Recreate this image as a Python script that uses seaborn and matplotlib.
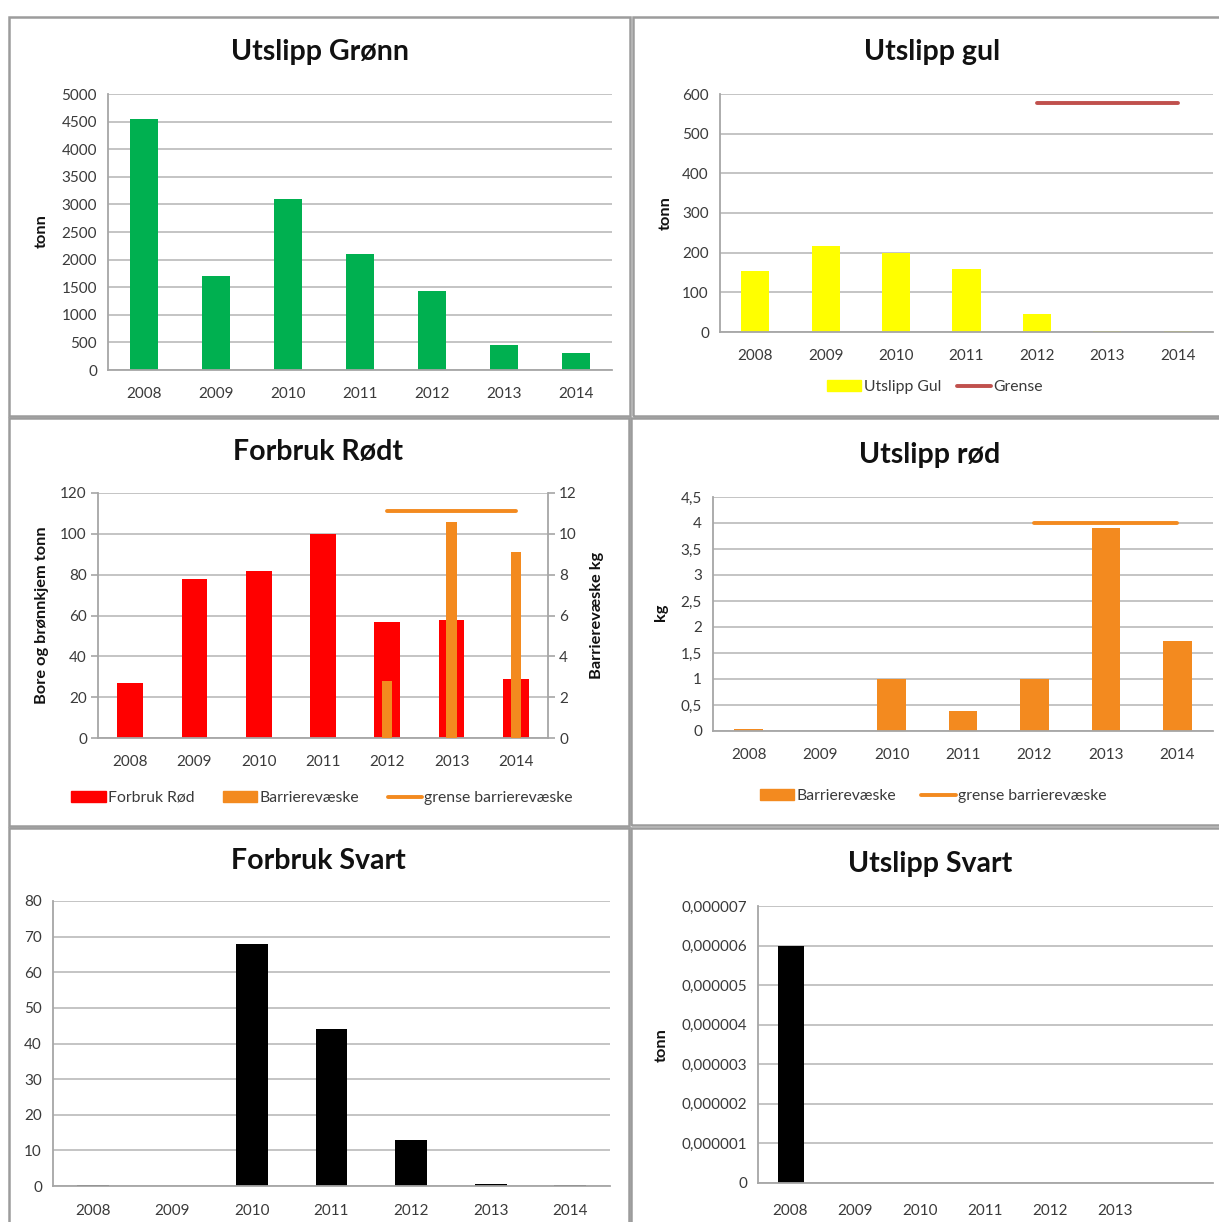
import numpy as np
import matplotlib
matplotlib.use("Agg")
import matplotlib.pyplot as plt
from matplotlib.patches import Rectangle, Patch
from matplotlib.lines import Line2D
from matplotlib.ticker import FuncFormatter
import seaborn as sns

# ---- data ----
years = ["2008", "2009", "2010", "2011", "2012", "2013", "2014"]
gronn_utslipp = [4540, 1700, 3090, 2100, 1440, 460, 300]
gul_utslipp = [155, 218, 200, 160, 45, 3, 3]
gul_grense = [np.nan, np.nan, np.nan, np.nan, 577, 577, 577]
rod_forbruk = [27, 78, 82, 100, 57, 58, 29]
rod_barriere_forbruk = [np.nan, np.nan, np.nan, np.nan, 2.8, 10.6, 9.1]
rod_grense_forbruk = [np.nan, np.nan, np.nan, np.nan, 11.1, 11.1, 11.1]
rod_barriere_utslipp = [0.03, 0, 1.0, 0.38, 1.0, 3.9, 1.74]
rod_grense_utslipp = [np.nan, np.nan, np.nan, np.nan, 4.0, 4.0, 4.0]
svart_forbruk = [0.4, 0, 68, 44, 13, 0.5, 0.4]
svart_utslipp = [6e-6, 0, 0, 0, 0, 0, 0]
svart_utslipp_labels = ["2008", "2009", "2010", "2011", "2012", "2013", ""]

GREEN = "#00B050"
YELLOW = "#FFFF00"
RED = "#FF0000"
ORANGE = "#F38A1F"
GRENSE_RED = "#C0504D"
BLACK = "#000000"
GRID = "#c4c4c4"
AXIS = "#a6a6a6"
TXT = "#3a3a3a"

W, H = 1219, 1222
sns.set_theme(style="white")
plt.rcParams["font.family"] = ["Lato", "DejaVu Sans"]

fig = plt.figure(figsize=(W / 100, H / 100), dpi=100)
fig.patch.set_facecolor("white")


def box(l, t, r, b):
    return [l / W, 1 - b / H, (r - l) / W, (b - t) / H]


def fx(x):
    return x / W


def fy(y):
    return 1 - y / H


pos = np.arange(len(years))
bar_kw = dict(saturation=1, linewidth=0)


def style(ax, ymax, step, fmt=None, labelsize=11):
    ax.set_xlim(-0.5, len(years) - 0.5)
    ax.set_ylim(0, ymax)
    ax.set_yticks(np.arange(0, ymax + step / 2, step))
    if fmt is not None:
        ax.yaxis.set_major_formatter(FuncFormatter(fmt))
    ax.grid(axis="y", color=GRID, lw=1.4)
    ax.grid(axis="x", visible=False)
    ax.set_axisbelow(True)
    for s in ("top", "right"):
        ax.spines[s].set_visible(False)
    for s in ("left", "bottom"):
        ax.spines[s].set_color(AXIS)
        ax.spines[s].set_linewidth(1.3)
    ax.set_xticks(pos)
    ax.set_xticks(np.arange(-0.5, len(years)), minor=True)
    ax.tick_params(axis="x", which="major", length=0, labelsize=labelsize,
                   labelcolor=TXT, pad=12)
    ax.tick_params(axis="x", which="minor", length=6, width=1.2,
                   color=AXIS, direction="out")
    ax.tick_params(axis="y", length=5, width=1.2, color=AXIS, direction="out",
                   labelsize=labelsize, labelcolor=TXT, pad=3)
    ax.set_xlabel("")
    ax.set_ylabel("")
    ax.set_facecolor("white")


def comma(decimals=None):
    def f(v, _):
        if abs(v) < 1e-15:
            return "0"
        if decimals is None:
            s = f"{v:g}"
        else:
            s = f"{v:.{decimals}f}"
        return s.replace(".", ",")
    return f


# ---- panel frames ----
for (l, t, r, b) in [(9, 17, 630, 416), (633, 17, 1230, 416),
                     (9, 418, 629, 826), (631, 418, 1230, 825),
                     (9, 828, 629, 1240), (631, 828, 1230, 1240)]:
    fig.add_artist(Rectangle((fx(l), fy(b)), (r - l) / W, (b - t) / H,
                             transform=fig.transFigure, fill=False,
                             edgecolor="#9c9c9c", lw=1.8))

title_kw = dict(ha="center", va="center", fontsize=20.5, fontweight="bold",
                color="#111111")
ylab_kw = dict(ha="center", va="center", rotation=90, fontsize=11.8,
               fontweight="bold", color="#111111")
leg_kw = dict(loc="center", frameon=False, fontsize=11.3, handlelength=2.2,
              handleheight=0.7, handletextpad=0.15, labelcolor=TXT)

# ---- Utslipp Grønn ----
ax1 = fig.add_axes(box(108, 94, 612, 370))
sns.barplot(x=years, y=gronn_utslipp, order=years, color=GREEN, width=0.4,
            ax=ax1, **bar_kw)
style(ax1, 5000, 500)
fig.text(fx(320), fy(52), "Utslipp Grønn", **title_kw)
fig.text(fx(42), fy(231), "tonn", **ylab_kw)

# ---- Utslipp gul ----
ax2 = fig.add_axes(box(720, 94, 1213, 332))
sns.barplot(x=years, y=gul_utslipp, order=years, color=YELLOW, width=0.4,
            ax=ax2, **bar_kw)
sns.lineplot(x=pos, y=gul_grense, color=GRENSE_RED, lw=2.8, ax=ax2)
style(ax2, 600, 100)
fig.text(fx(932), fy(52), "Utslipp gul", **title_kw)
fig.text(fx(666), fy(213), "tonn", **ylab_kw)
fig.legend([Patch(color=YELLOW), Line2D([], [], color=GRENSE_RED, lw=2.8)],
           ["Utslipp Gul", "Grense"], ncol=2, columnspacing=1.0,
           bbox_to_anchor=(fx(935), fy(387)), **leg_kw)

# ---- Forbruk Rødt ----
ax3 = fig.add_axes(box(98, 493, 548, 738))
sns.barplot(x=years, y=rod_forbruk, order=years, color=RED, width=0.4,
            ax=ax3, **bar_kw)
style(ax3, 120, 20)
ax3b = ax3.twinx()
sns.barplot(x=years, y=rod_barriere_forbruk, order=years, color=ORANGE,
            width=0.16, ax=ax3b, **bar_kw)
sns.lineplot(x=pos, y=rod_grense_forbruk, color=ORANGE, lw=2.8, ax=ax3b)
ax3b.set_xlim(-0.5, len(years) - 0.5)
ax3b.set_ylim(0, 12)
ax3b.set_yticks(np.arange(0, 13, 2))
ax3b.grid(False)
for s in ("top", "left", "bottom"):
    ax3b.spines[s].set_visible(False)
ax3b.spines["right"].set_color(AXIS)
ax3b.spines["right"].set_linewidth(1.3)
ax3b.tick_params(axis="y", length=5, width=1.2, color=AXIS, direction="out",
                 labelsize=11, labelcolor=TXT, pad=3)
ax3b.set_ylabel("")
fig.text(fx(318), fy(452), "Forbruk Rødt", **title_kw)
fig.text(fx(42), fy(615), "Bore og brønnkjem tonn", **ylab_kw)
fig.text(fx(597), fy(615), "Barrierevæske kg", **ylab_kw)
fig.legend([Patch(color=RED), Patch(color=ORANGE),
            Line2D([], [], color=ORANGE, lw=2.8)],
           ["Forbruk Rød", "Barrierevæske", "grense barrierevæske"], ncol=3,
           columnspacing=1.8, bbox_to_anchor=(fx(322), fy(798)), **leg_kw)

# ---- Utslipp rød ----
ax4 = fig.add_axes(box(713, 497, 1213, 731))
sns.barplot(x=years, y=rod_barriere_utslipp, order=years, color=ORANGE,
            width=0.4, ax=ax4, **bar_kw)
sns.lineplot(x=pos, y=rod_grense_utslipp, color=ORANGE, lw=2.8, ax=ax4)
style(ax4, 4.5, 0.5, fmt=comma())
fig.text(fx(930), fy(455), "Utslipp rød", **title_kw)
fig.text(fx(661), fy(612), "kg", **ylab_kw)
fig.legend([Patch(color=ORANGE), Line2D([], [], color=ORANGE, lw=2.8)],
           ["Barrierevæske", "grense barrierevæske"], ncol=2,
           columnspacing=1.6, bbox_to_anchor=(fx(933), fy(796)), **leg_kw)

# ---- Forbruk Svart ----
ax5 = fig.add_axes(box(53, 901, 610, 1186))
sns.barplot(x=years, y=svart_forbruk, order=years, color=BLACK, width=0.4,
            ax=ax5, **bar_kw)
style(ax5, 80, 10)
ax5.tick_params(axis="x", which="major", pad=13)
fig.text(fx(318), fy(861), "Forbruk Svart", **title_kw)

# ---- Utslipp Svart ----
ax6 = fig.add_axes(box(758, 906, 1213, 1183))
sns.barplot(x=years, y=svart_utslipp, order=years, color=BLACK, width=0.4,
            ax=ax6, **bar_kw)
style(ax6, 7e-6, 1e-6, fmt=comma(6))
ax6.set_xticks(pos, svart_utslipp_labels)
ax6.tick_params(axis="x", which="major", pad=15)
fig.text(fx(930), fy(864), "Utslipp Svart", **title_kw)
fig.text(fx(662), fy(1045), "tonn", **ylab_kw)

fig.savefig("out.png", dpi=100, facecolor="white")
